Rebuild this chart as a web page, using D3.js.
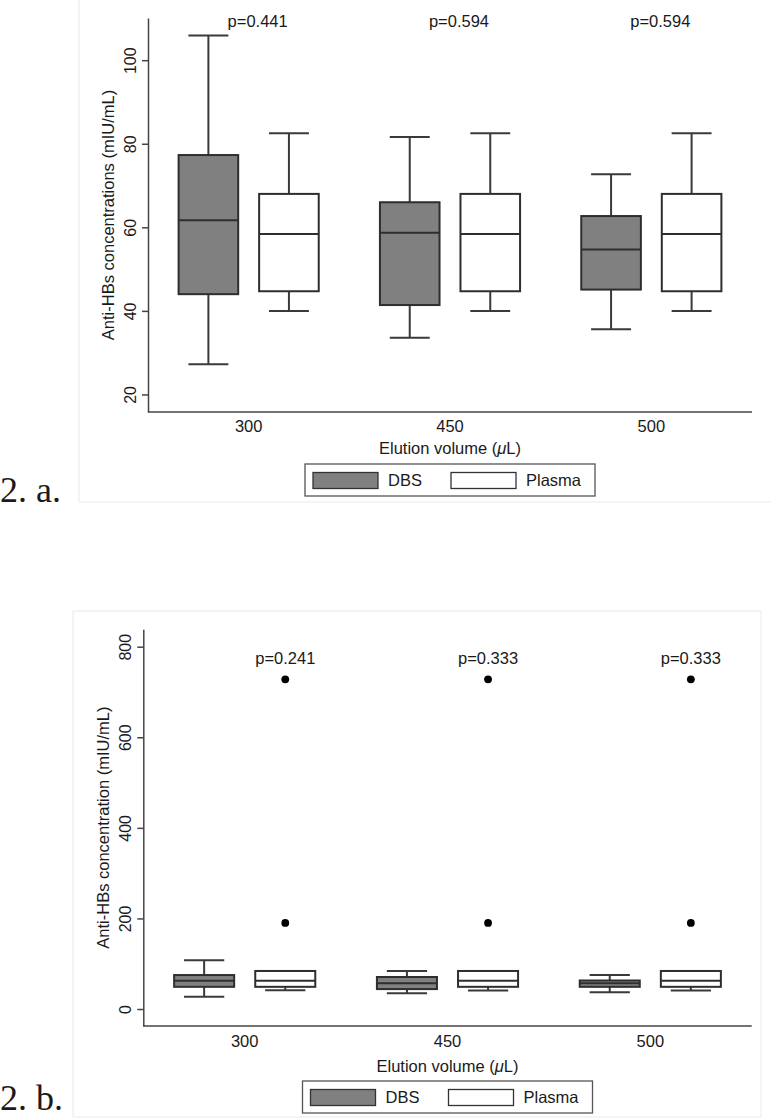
<!DOCTYPE html>
<html>
<head>
<meta charset="utf-8">
<script src="https://cdn.jsdelivr.net/npm/d3@7"></script>
<style>
  body { margin: 0; background: #fff; }
  svg text { font-family: "Liberation Sans", Arial, sans-serif; fill: #1a1a1a; }
  .fig-label { font-family: "Liberation Serif", "Times New Roman", serif; }
</style>
</head>
<body>
<div id="chart"></div>
<script>
// Categories and series
const groups = ["300", "450", "500"];
const seriesNames = ["DBS", "Plasma"];

// Panel a: [lower whisker, q1, median, q3, upper whisker]
const dbsA = [
    [27.2, 44.0, 61.7, 77.3, 105.9],
    [33.6, 41.4, 58.7, 66.0, 81.6],
    [35.6, 45.1, 54.7, 62.7, 72.7]
];
const plasmaA = [
    [40.0, 44.7, 58.4, 68.0, 82.5],
    [40.0, 44.7, 58.4, 68.0, 82.5],
    [40.0, 44.7, 58.4, 68.0, 82.5]
];
const pValuesA = ["p=0.441", "p=0.594", "p=0.594"];
const yTicksA = [20, 40, 60, 80, 100];

// Panel b: same layout, plasma has outliers
const dbsB = [
    [27, 49, 62.5, 75, 107.5],
    [34.7, 44, 57, 70.7, 84],
    [37, 49, 56.7, 63, 75]
];
const plasmaB = [
    [41.5, 49, 62.5, 84, 84],
    [41, 49, 62.5, 84, 84],
    [41, 49, 62.5, 84, 84]
];
const outliersB = [
    [190, 728],
    [190, 728],
    [190, 728]
];
const pValuesB = ["p=0.241", "p=0.333", "p=0.333"];
const yTicksB = [0, 200, 400, 600, 800];

const W = 771, H = 1118;
const svg = d3.select("#chart").append("svg")
    .attr("width", W)
    .attr("height", H);

const fills = { DBS: "#808080", Plasma: "#ffffff" };

function drawPanel(cfg) {
    // faint panel frame
    svg.append("rect")
        .attr("x", cfg.frame[0]).attr("y", cfg.frame[1])
        .attr("width", cfg.frame[2]).attr("height", cfg.frame[3])
        .attr("fill", "#fff")
        .attr("stroke", "#e6ecec")
        .attr("stroke-width", 1);

    const x = d3.scaleBand().domain(groups).range([cfg.left, cfg.right]).padding(0);
    const bw = x.bandwidth();
    const sub = d3.scalePoint().domain(seriesNames).range([bw * 0.3, bw * 0.7]);
    const boxW = bw * 0.296;
    const capW = boxW * 0.67;

    const y = d3.scaleLinear().domain(cfg.yDomain).range([cfg.bottom, cfg.top]);

    // y axis
    const yAxis = svg.append("g")
        .attr("transform", "translate(" + cfg.left + ",0)")
        .call(d3.axisLeft(y).tickValues(cfg.yTicks).tickSize(6).tickSizeOuter(0));
    yAxis.selectAll("path, line").attr("stroke", "#444").attr("stroke-width", 1.5);
    yAxis.selectAll("text")
        .attr("transform", "rotate(-90)")
        .attr("x", 0)
        .attr("y", -12)
        .attr("dy", 0)
        .attr("text-anchor", "middle")
        .style("font-size", "16px")
        .style("font-family", "Liberation Sans, Arial, sans-serif")
        .attr("fill", "#1a1a1a");

    // x axis
    const xAxis = svg.append("g")
        .attr("transform", "translate(0," + cfg.bottom + ")")
        .call(d3.axisBottom(x).tickSize(0).tickSizeOuter(0));
    xAxis.select("path").attr("stroke", "#444").attr("stroke-width", 1.5)
        .attr("d", "M" + cfg.left + ",0H" + cfg.right);
    xAxis.selectAll("text")
        .attr("y", 0)
        .attr("dy", cfg.xTickDy)
        .style("font-size", "16.5px")
        .style("font-family", "Liberation Sans, Arial, sans-serif")
        .attr("fill", "#1a1a1a");

    // axis titles
    svg.append("text")
        .attr("transform", "translate(" + (cfg.left - 34) + "," + ((cfg.top + cfg.bottom) / 2) + ") rotate(-90)")
        .attr("text-anchor", "middle")
        .style("font-size", "16.5px")
        .text(cfg.yTitle);

    const xt = svg.append("text")
        .attr("x", (cfg.left + cfg.right) / 2)
        .attr("y", cfg.bottom + cfg.xTitleDy)
        .attr("text-anchor", "middle")
        .style("font-size", "16.5px");
    xt.append("tspan").text("Elution volume (");
    xt.append("tspan").style("font-style", "italic").text("\u03bc");
    xt.append("tspan").text("L)");

    // boxes
    const boxData = [];
    groups.forEach((g, i) => {
        boxData.push({ g: g, s: "DBS", v: cfg.dbs[i] });
        boxData.push({ g: g, s: "Plasma", v: cfg.plasma[i] });
    });

    const boxes = svg.selectAll(null)
        .data(boxData)
        .enter()
        .append("g")
        .attr("transform", d => "translate(" + (x(d.g) + sub(d.s)) + ",0)");

    // whiskers
    boxes.append("line")
        .attr("x1", 0).attr("x2", 0)
        .attr("y1", d => y(d.v[3])).attr("y2", d => y(d.v[4]))
        .attr("stroke", "#3a3a3a").attr("stroke-width", 2);
    boxes.append("line")
        .attr("x1", 0).attr("x2", 0)
        .attr("y1", d => y(d.v[0])).attr("y2", d => y(d.v[1]))
        .attr("stroke", "#3a3a3a").attr("stroke-width", 2);
    // caps
    boxes.append("line")
        .attr("x1", -capW / 2).attr("x2", capW / 2)
        .attr("y1", d => y(d.v[4])).attr("y2", d => y(d.v[4]))
        .attr("stroke", "#3a3a3a").attr("stroke-width", 2);
    boxes.append("line")
        .attr("x1", -capW / 2).attr("x2", capW / 2)
        .attr("y1", d => y(d.v[0])).attr("y2", d => y(d.v[0]))
        .attr("stroke", "#3a3a3a").attr("stroke-width", 2);
    // box body
    boxes.append("rect")
        .attr("x", -boxW / 2)
        .attr("width", boxW)
        .attr("y", d => y(d.v[3]))
        .attr("height", d => y(d.v[1]) - y(d.v[3]))
        .attr("fill", d => fills[d.s])
        .attr("stroke", "#2e2e2e")
        .attr("stroke-width", 2);
    // median
    boxes.append("line")
        .attr("x1", -boxW / 2).attr("x2", boxW / 2)
        .attr("y1", d => y(d.v[2])).attr("y2", d => y(d.v[2]))
        .attr("stroke", "#2e2e2e").attr("stroke-width", 2);

    // outliers
    if (cfg.outliers) {
        groups.forEach((g, i) => {
            svg.selectAll(null)
                .data(cfg.outliers[i])
                .enter()
                .append("circle")
                .attr("cx", x(g) + sub("Plasma"))
                .attr("cy", d => y(d))
                .attr("r", 3.9)
                .attr("fill", "#000");
        });
    }

    // p-values
    svg.selectAll(null)
        .data(cfg.pValues)
        .enter()
        .append("text")
        .attr("x", (d, i) => cfg.pOnPlasma ? x(groups[i]) + sub("Plasma") : x(groups[i]) + bw / 2 + 9)
        .attr("y", cfg.pY)
        .attr("text-anchor", "middle")
        .style("font-size", "16.5px")
        .text(d => d);

    // legend
    const cx = (cfg.left + cfg.right) / 2;
    const lg = svg.append("g")
        .attr("transform", "translate(" + (cx - 145) + "," + cfg.legendTop + ")");
    lg.append("rect")
        .attr("width", 290).attr("height", 32)
        .attr("fill", "#fff")
        .attr("stroke", "#555").attr("stroke-width", 1.3);
    const items = lg.selectAll(null)
        .data(seriesNames)
        .enter()
        .append("g")
        .attr("transform", (d, i) => "translate(" + (8 + i * 138) + ",0)");
    items.append("rect")
        .attr("x", 0).attr("y", 8.5)
        .attr("width", 65).attr("height", 16)
        .attr("fill", d => fills[d])
        .attr("stroke", "#333").attr("stroke-width", 1.3);
    items.append("text")
        .attr("x", 75).attr("y", 22)
        .style("font-size", "16.5px")
        .text(d => d);

    // figure label
    svg.append("text")
        .attr("class", "fig-label")
        .attr("x", 0)
        .attr("y", cfg.figLabelY)
        .style("font-size", "36px")
        .attr("fill", "#111")
        .text(cfg.figLabel);
}

drawPanel({
    frame: [79, -1, 693, 503],
    left: 148, right: 752, top: 18, bottom: 412,
    yDomain: [15.8, 110.1],
    yTicks: yTicksA,
    dbs: dbsA, plasma: plasmaA,
    pValues: pValuesA, pOnPlasma: false, pY: 27,
    yTitle: "Anti-HBs concentrations (mIU/mL)",
    xTickDy: 20, xTitleDy: 42,
    legendTop: 464,
    figLabel: "2. a.", figLabelY: 502
});

drawPanel({
    frame: [73, 611, 688, 506],
    left: 143.3, right: 751.7, top: 629.3, bottom: 1026,
    yDomain: [-37.5, 838.4],
    yTicks: yTicksB,
    dbs: dbsB, plasma: plasmaB, outliers: outliersB,
    pValues: pValuesB, pOnPlasma: true, pY: 664,
    yTitle: "Anti-HBs concentration (mIU/mL)",
    xTickDy: 21, xTitleDy: 46,
    legendTop: 1081,
    figLabel: "2. b.", figLabelY: 1110
});
</script>
</body>
</html>
